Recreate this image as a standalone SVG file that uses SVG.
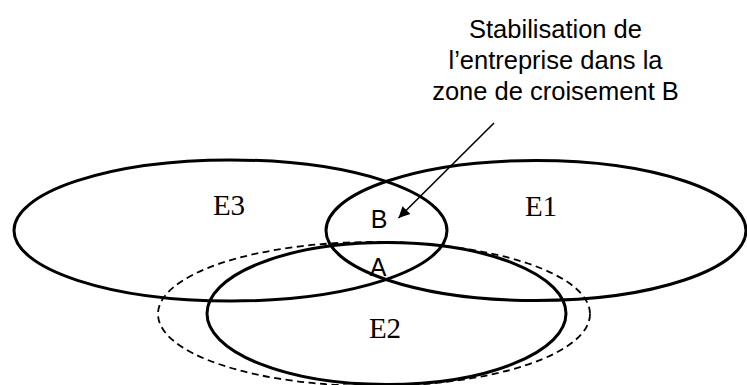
<svg xmlns="http://www.w3.org/2000/svg" width="747" height="385" viewBox="0 0 747 385">
<style>
.set{fill:none;stroke:#000;stroke-width:3}
.dash{fill:none;stroke:#000;stroke-width:1.8;stroke-dasharray:7 4.5}
.lbl{font-family:"Liberation Serif","Times New Roman",serif;font-size:29px;fill:#000;text-anchor:middle}
.sans{font-family:"Liberation Sans",Arial,sans-serif;fill:#000;text-anchor:middle}
</style>
<defs>
<marker id="ah" viewBox="0 0 10 10" refX="10" refY="5" markerWidth="9" markerHeight="7" markerUnits="strokeWidth" orient="auto">
<path d="M0,0 L10,5 L0,10 z" fill="#000"/>
</marker>
</defs>
<rect width="747" height="385" fill="#fff"/>
<g id="zone-dashed"><ellipse class="dash" cx="374" cy="314" rx="216" ry="72"/></g>
<g id="E3"><ellipse class="set" cx="230.5" cy="230.5" rx="216.5" ry="70.5"/><text class="lbl" x="229" y="215">E3</text></g>
<g id="E1"><ellipse class="set" cx="536" cy="230.5" rx="210" ry="70"/><text class="lbl" x="541" y="216">E1</text></g>
<g id="E2"><ellipse class="set" cx="386.5" cy="313.5" rx="179.5" ry="71"/><text class="lbl" x="385" y="338">E2</text></g>
<g id="B"><text class="sans" x="379" y="228" font-size="25">B</text></g>
<g id="A"><text class="sans" x="378" y="276" font-size="25">A</text></g>
<g id="note"><text class="sans" font-size="25.5"><tspan x="555.5" y="38">Stabilisation de</tspan><tspan x="555.5" y="69">l’entreprise dans la</tspan><tspan x="555.5" y="100">zone de croisement B</tspan></text></g>
<g id="connectors"><line x1="494" y1="123" x2="398.5" y2="218" stroke="#000" stroke-width="1.6" marker-end="url(#ah)"/></g>
</svg>
